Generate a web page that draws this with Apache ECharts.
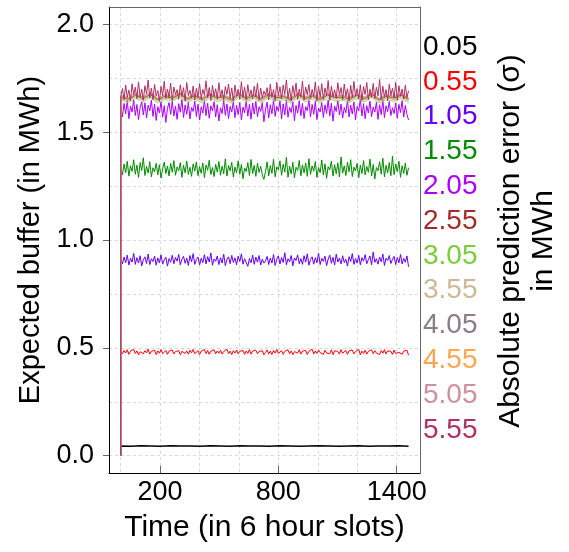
<!DOCTYPE html>
<html lang="en">
<head>
<meta charset="UTF-8">
<title>Expected buffer</title>
<style>
  html, body { margin: 0; padding: 0; background: #fff; }
  #main { width: 569px; height: 552px; }
</style>
</head>
<body>
<div id="main"></div>
<script src="https://cdn.jsdelivr.net/npm/echarts@6/dist/echarts.min.js"></script>
<script>
// prediction error levels (legend), in MWh
var sigmas = ['0.05', '0.55', '1.05', '1.55', '2.05', '2.55', '3.05', '3.55', '4.05', '4.55', '5.05', '5.55'];
var colors = ['#000000', '#ff0000', '#6300ff', '#008b00', '#aa00ff', '#a52a2a',
              '#7acd38', '#cbb998', '#8b7b8b', '#ffa54f', '#cd919e', '#b03060'];

var firstSlot = 1;
var lastSlot = 1460;
var xLabelTicks = [200, 800, 1400];
var xGridTicks = [0, 200, 400, 600, 800, 1000, 1200, 1400];
var yLabelTicks = [0, 0.5, 1.0, 1.5, 2.0];
var yGridTicks = [0, 0.25, 0.5, 0.75, 1.0, 1.25, 1.5, 1.75, 2.0];

// expected buffer readings (MWh), first value is the start at slot 1
var buf005 = [0,
  0.045,0.044,0.046,0.045,0.044,0.046,0.045,0.045,0.044,0.046,
  0.045,0.044,0.046,0.045,0.045,0.044,0.046,0.045,0.044,0.045,
  0.046,0.045,0.044,0.045,0.046,0.044,0.045,0.045,0.046,0.044];
var buf055 = [0,
  0.483,0.472,0.488,0.476,0.491,0.470,0.485,0.479,0.493,0.474,
  0.486,0.468,0.482,0.490,0.473,0.487,0.477,0.494,0.471,0.484,
  0.478,0.489,0.469,0.486,0.475,0.492,0.473,0.481,0.488,0.470,
  0.485,0.476,0.490,0.472,0.483,0.479,0.487,0.468,0.484,0.491,
  0.474,0.486,0.471,0.489,0.477,0.493,0.473,0.482,0.487,0.469,
  0.485,0.476,0.492,0.474,0.488,0.470,0.484,0.480,0.491,0.472,
  0.486,0.475,0.489,0.471,0.483,0.478,0.494,0.473,0.485,0.469,
  0.487,0.476,0.490,0.472,0.484,0.479,0.488,0.470,0.486,0.474,
  0.492,0.471,0.485,0.477,0.489,0.473,0.483,0.480,0.487,0.468,
  0.479,0.490,0.472,0.485,0.469,0.488,0.476,0.493,0.474,0.482,
  0.487,0.470,0.484,0.478,0.491,0.473,0.486,0.468,0.483,0.489,
  0.475,0.492,0.471,0.485,0.480,0.488,0.469,0.484,0.477,0.494,
  0.472,0.486,0.474,0.490,0.478,0.483,0.470,0.489,0.476,0.485,
  0.473,0.491,0.469,0.487,0.479,0.484,0.471,0.492,0.475,0.482,
  0.488,0.470,0.486,0.477,0.490,0.472,0.483,0.479,0.493,0.468,
  0.485,0.474,0.489,0.471,0.484,0.480,0.491,0.473,0.487,0.476,
  0.482,0.469,0.488,0.475,0.492,0.472,0.486,0.478,0.484,0.470,
  0.490,0.474,0.483,0.479,0.487,0.471,0.485,0.476,0.489,0.466];
var buf105 = [0,
  0.912,0.889,0.921,0.895,0.930,0.884,0.915,0.898,0.938,0.887,
  0.918,0.893,0.927,0.880,0.909,0.922,0.891,0.935,0.886,0.913,
  0.900,0.925,0.883,0.917,0.894,0.931,0.888,0.908,0.920,0.879,
  0.914,0.897,0.929,0.890,0.919,0.902,0.933,0.885,0.911,0.924,
  0.892,0.916,0.882,0.928,0.899,0.937,0.887,0.910,0.921,0.884,
  0.915,0.895,0.932,0.889,0.923,0.898,0.940,0.883,0.912,0.901,
  0.926,0.886,0.918,0.893,0.934,0.881,0.909,0.922,0.890,0.929,
  0.896,0.917,0.885,0.925,0.900,0.936,0.888,0.913,0.919,0.878,
  0.914,0.894,0.930,0.887,0.921,0.897,0.928,0.884,0.911,0.893,
  0.903,0.924,0.886,0.916,0.893,0.933,0.882,0.911,0.926,0.889,
  0.919,0.896,0.941,0.885,0.913,0.899,0.928,0.880,0.917,0.905,
  0.931,0.890,0.914,0.887,0.927,0.897,0.936,0.883,0.910,0.922,
  0.888,0.918,0.894,0.939,0.886,0.915,0.901,0.925,0.881,0.912,
  0.930,0.892,0.920,0.884,0.934,0.898,0.916,0.889,0.927,0.895,
  0.911,0.879,0.923,0.900,0.937,0.887,0.914,0.893,0.929,0.885,
  0.918,0.902,0.932,0.890,0.909,0.926,0.884,0.944,0.896,0.913,
  0.888,0.921,0.899,0.935,0.882,0.916,0.905,0.928,0.891,0.910,
  0.924,0.886,0.919,0.894,0.933,0.889,0.915,0.897,0.926,0.876];
var buf155 = [0,
  1.338,1.301,1.352,1.312,1.365,1.296,1.344,1.318,1.372,1.305,
  1.347,1.290,1.359,1.322,1.381,1.299,1.341,1.310,1.363,1.293,
  1.335,1.316,1.356,1.302,1.349,1.287,1.330,1.361,1.308,1.343,
  1.297,1.355,1.314,1.368,1.300,1.339,1.321,1.358,1.291,1.346,
  1.311,1.366,1.304,1.337,1.295,1.353,1.319,1.362,1.298,1.340,
  1.309,1.357,1.289,1.348,1.323,1.370,1.303,1.336,1.294,1.351,
  1.315,1.364,1.300,1.342,1.307,1.376,1.296,1.345,1.320,1.360,
  1.292,1.338,1.311,1.367,1.305,1.350,1.284,1.334,1.317,1.359,
  1.299,1.373,1.308,1.346,1.295,1.356,1.313,1.341,1.302,1.281,
  1.318,1.362,1.297,1.345,1.309,1.374,1.293,1.339,1.326,1.367,
  1.300,1.351,1.315,1.383,1.291,1.342,1.306,1.360,1.288,1.337,
  1.322,1.369,1.298,1.348,1.311,1.357,1.295,1.377,1.304,1.343,
  1.319,1.364,1.290,1.336,1.312,1.371,1.301,1.353,1.286,1.340,
  1.325,1.366,1.296,1.349,1.307,1.358,1.292,1.385,1.310,1.344,
  1.299,1.361,1.316,1.372,1.294,1.338,1.320,1.355,1.289,1.347,
  1.308,1.368,1.302,1.341,1.314,1.375,1.297,1.350,1.283,1.336,
  1.321,1.363,1.305,1.379,1.293,1.346,1.311,1.359,1.298,1.388,
  1.303,1.352,1.317,1.365,1.291,1.344,1.309,1.357,1.300,1.335];
var buf205 = [0,
  1.612,1.571,1.633,1.585,1.645,1.562,1.621,1.594,1.650,1.577,
  1.628,1.558,1.615,1.640,1.580,1.636,1.566,1.625,1.598,1.648,
  1.573,1.630,1.554,1.618,1.589,1.642,1.569,1.623,1.545,1.610,
  1.637,1.582,1.646,1.575,1.620,1.559,1.632,1.592,1.651,1.568,
  1.626,1.583,1.639,1.561,1.614,1.596,1.644,1.572,1.629,1.556,
  1.617,1.588,1.647,1.576,1.634,1.564,1.622,1.599,1.641,1.570,
  1.627,1.552,1.613,1.586,1.649,1.578,1.631,1.563,1.619,1.593,
  1.643,1.567,1.624,1.581,1.638,1.557,1.616,1.590,1.646,1.574,
  1.629,1.560,1.635,1.584,1.642,1.571,1.618,1.596,1.637,1.548,
  1.604,1.639,1.566,1.627,1.585,1.650,1.573,1.620,1.597,1.644,
  1.561,1.631,1.580,1.648,1.569,1.615,1.591,1.641,1.553,1.624,
  1.588,1.646,1.576,1.633,1.563,1.618,1.599,1.652,1.571,1.628,
  1.583,1.643,1.558,1.612,1.594,1.637,1.568,1.626,1.587,1.649,
  1.574,1.634,1.551,1.621,1.596,1.645,1.579,1.630,1.565,1.614,
  1.590,1.647,1.570,1.625,1.584,1.640,1.557,1.619,1.598,1.653,
  1.575,1.632,1.562,1.623,1.589,1.644,1.572,1.616,1.593,1.638,
  1.559,1.627,1.581,1.650,1.567,1.622,1.595,1.642,1.577,1.613,
  1.586,1.636,1.564,1.629,1.591,1.646,1.570,1.624,1.582,1.556];
var buf255 = [0,
  1.662,1.652,1.671,1.656,1.674,1.650,1.666,1.657,1.676,1.653,
  1.668,1.651,1.672,1.658,1.664,1.649,1.675,1.655,1.669,1.652,
  1.673,1.659,1.665,1.650,1.674,1.656,1.667,1.651,1.672,1.660,
  1.663,1.653,1.670,1.655,1.675,1.649,1.666,1.658,1.671,1.652];
var buf305 = [0,
  1.655,1.645,1.664,1.649,1.667,1.643,1.659,1.651,1.669,1.646,
  1.661,1.644,1.665,1.650,1.657,1.642,1.668,1.648,1.662,1.645,
  1.666,1.652,1.658,1.643,1.667,1.649,1.660,1.644,1.665,1.653,
  1.656,1.646,1.663,1.648,1.668,1.642,1.659,1.650,1.664,1.645];
var buf355 = [0,
  1.648,1.637,1.656,1.641,1.660,1.635,1.651,1.643,1.662,1.638,
  1.653,1.636,1.658,1.642,1.649,1.634,1.661,1.640,1.655,1.637,
  1.659,1.644,1.650,1.635,1.660,1.641,1.652,1.636,1.657,1.645,
  1.648,1.638,1.655,1.640,1.661,1.634,1.651,1.642,1.656,1.637];
var buf405 = [0,
  1.664,1.654,1.673,1.658,1.676,1.652,1.668,1.659,1.678,1.655,
  1.670,1.653,1.674,1.660,1.666,1.651,1.677,1.657,1.671,1.654,
  1.675,1.661,1.667,1.652,1.676,1.658,1.669,1.653,1.674,1.662,
  1.665,1.655,1.672,1.657,1.677,1.651,1.668,1.660,1.673,1.654];
var buf455 = [0,
  1.667,1.657,1.676,1.661,1.679,1.655,1.671,1.662,1.681,1.658,
  1.673,1.656,1.677,1.663,1.669,1.654,1.680,1.660,1.674,1.657,
  1.678,1.664,1.670,1.655,1.679,1.661,1.672,1.656,1.677,1.665,
  1.668,1.658,1.675,1.660,1.680,1.654,1.671,1.663,1.676,1.657];
var buf505 = [0,
  1.670,1.660,1.679,1.664,1.682,1.658,1.674,1.665,1.684,1.661,
  1.676,1.659,1.680,1.666,1.672,1.657,1.683,1.663,1.677,1.660,
  1.681,1.667,1.673,1.658,1.682,1.664,1.675,1.659,1.680,1.668,
  1.671,1.661,1.678,1.663,1.683,1.657,1.674,1.666,1.679,1.660];
var buf555 = [0,
  1.668,1.702,1.651,1.718,1.660,1.695,1.645,1.724,1.672,1.708,
  1.655,1.733,1.663,1.699,1.648,1.715,1.676,1.741,1.658,1.704,
  1.650,1.721,1.667,1.693,1.643,1.712,1.670,1.736,1.656,1.700,
  1.661,1.727,1.647,1.709,1.673,1.697,1.652,1.719,1.665,1.706,
  1.644,1.730,1.669,1.694,1.657,1.714,1.648,1.703,1.662,1.725,
  1.653,1.698,1.671,1.738,1.659,1.707,1.646,1.716,1.666,1.701,
  1.654,1.729,1.664,1.696,1.649,1.711,1.674,1.723,1.657,1.705,
  1.645,1.718,1.668,1.699,1.652,1.734,1.661,1.708,1.650,1.720,
  1.667,1.695,1.655,1.713,1.663,1.728,1.648,1.704,1.659,1.690,
  1.672,1.706,1.649,1.722,1.662,1.697,1.646,1.731,1.668,1.710,
  1.653,1.719,1.675,1.742,1.656,1.703,1.644,1.716,1.670,1.727,
  1.651,1.700,1.664,1.737,1.648,1.709,1.673,1.721,1.655,1.698,
  1.666,1.733,1.645,1.712,1.660,1.725,1.652,1.705,1.669,1.739,
  1.647,1.714,1.663,1.696,1.657,1.729,1.671,1.707,1.650,1.723,
  1.665,1.701,1.643,1.717,1.658,1.735,1.667,1.702,1.654,1.720,
  1.646,1.711,1.674,1.730,1.649,1.699,1.661,1.726,1.656,1.708,
  1.668,1.744,1.652,1.713,1.663,1.697,1.645,1.722,1.670,1.704,
  1.657,1.731,1.648,1.715,1.666,1.700,1.653,1.718,1.660,1.692];

var buffers = [buf005, buf055, buf105, buf155, buf205, buf255,
               buf305, buf355, buf405, buf455, buf505, buf555];

// readings are spread evenly over the slots; the start value sits at slot 1
function toPoints(vals) {
    var step = (lastSlot - firstSlot - 1) / (vals.length - 2);
    return vals.map(function (v, i) {
        var slot = i === 0 ? firstSlot : firstSlot + 1 + (i - 1) * step;
        return [slot, v];
    });
}

var font = 'Liberation Sans';
var main = echarts.init(document.getElementById('main'));

var series = sigmas.map(function (s, k) {
    return {
        name: s,
        type: 'line',
        showSymbol: false,
        symbol: 'none',
        lineStyle: { width: k === 0 ? 1.4 : 1, color: colors[k] },
        itemStyle: { color: colors[k] },
        emphasis: { disabled: true },
        data: toPoints(buffers[k])
    };
});

var gridLine = { show: true, lineStyle: { color: '#d9d9d9', type: [3, 3], width: 1 } };

var option = {
    animation: false,
    backgroundColor: '#fff',
    textStyle: { fontFamily: font },
    grid: { left: 109, right: 149, top: 7, bottom: 79 },
    legend: {
        orient: 'vertical',
        left: 413,
        top: 28,
        icon: 'none',
        itemWidth: 0,
        itemHeight: 28,
        itemGap: 6.8,
        selectedMode: false,
        textStyle: { fontSize: 28, lineHeight: 28, fontFamily: font },
        data: sigmas.map(function (s, k) {
            return { name: s, textStyle: { color: colors[k] } };
        })
    },
    xAxis: [{
        type: 'value',
        position: 'bottom',
        min: -58,
        max: 1518,
        name: 'Time (in 6 hour slots)',
        nameLocation: 'middle',
        nameGap: 40,
        nameTextStyle: { fontSize: 30, color: '#000', fontFamily: font },
        axisLine: { show: true, onZero: false, lineStyle: { color: '#000', width: 1 } },
        axisTick: { show: true, inside: true, length: 7, customValues: xLabelTicks, lineStyle: { color: '#666' } },
        axisLabel: {
            customValues: xLabelTicks, fontSize: 27, color: '#000', margin: 6,
            formatter: function (v) { return String(v); }
        },
        splitLine: { show: false }
    }, {
        type: 'value',
        position: 'top',
        min: -58,
        max: 1518,
        axisLine: { show: true, onZero: false, lineStyle: { color: '#666', width: 1 } },
        axisTick: { show: false, customValues: xGridTicks },
        axisLabel: { show: false },
        splitLine: gridLine
    }],
    yAxis: [{
        type: 'value',
        position: 'left',
        min: -0.08,
        max: 2.08,
        name: 'Expected buffer (in MWh)',
        nameLocation: 'middle',
        nameGap: 62,
        nameTextStyle: { fontSize: 29, color: '#000', fontFamily: font },
        axisLine: { show: true, onZero: false, lineStyle: { color: '#000', width: 1 } },
        axisTick: { show: true, length: 6, customValues: yLabelTicks, lineStyle: { color: '#666' } },
        axisLabel: {
            customValues: yLabelTicks, fontSize: 27, color: '#000', margin: 15,
            formatter: function (v) { return v.toFixed(1); }
        },
        splitLine: { show: false }
    }, {
        type: 'value',
        position: 'right',
        min: -0.08,
        max: 2.08,
        axisLine: { show: true, onZero: false, lineStyle: { color: '#666', width: 1 } },
        axisTick: { show: false, customValues: yGridTicks },
        axisLabel: { show: false },
        splitLine: gridLine
    }],
    graphic: [{
        type: 'text',
        x: 527,
        y: 241,
        rotation: Math.PI / 2,
        style: {
            text: 'Absolute prediction error (\u03c3)\nin MWh',
            font: '30px "Liberation Sans"',
            fill: '#000',
            align: 'center',
            verticalAlign: 'middle',
            lineHeight: 33
        }
    }],
    series: series
};
main.setOption(option);
</script>
</body>
</html>
